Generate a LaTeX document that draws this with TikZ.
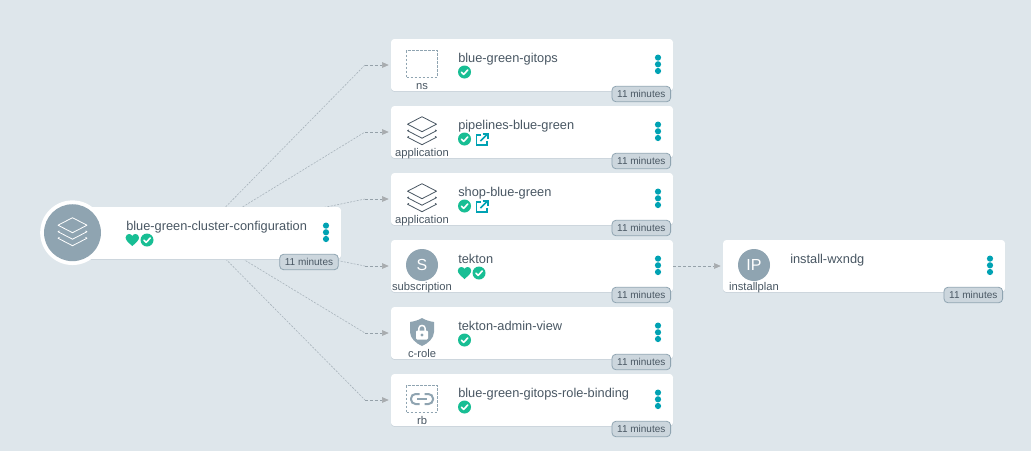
\documentclass[tikz,border=0pt]{standalone}
\usepackage{fontspec}
\setmainfont{Liberation Sans}
\usetikzlibrary{positioning,arrows.meta,shadows}
\definecolor{pagebg}{HTML}{DEE6EB}
\definecolor{inkgrey}{HTML}{495763}
\definecolor{slategrey}{HTML}{8FA4B1}
\definecolor{badgebg}{HTML}{CCD6DD}
\definecolor{okgreen}{HTML}{18BE94}
\definecolor{tealdot}{HTML}{00A2B3}
\definecolor{edgefar}{HTML}{A9B4BC}
\definecolor{edgenear}{HTML}{95A1A9}
\definecolor{tipgrey}{HTML}{A8ACAF}
\definecolor{cardshade}{HTML}{C6D1D9}

\tikzset{
    card/.style={fill=white, rounded corners=2.5pt, minimum width=211.5pt, minimum height=39pt, inner sep=0pt,
        general shadow={fill=cardshade, shadow yshift=-0.6pt}},
    rootcard/.style={card, minimum width=192pt},
    title/.style={anchor=base west, inner sep=0pt, text=inkgrey, font=\fontsize{9.6pt}{12pt}\selectfont},
    kind/.style={anchor=base, inner sep=0pt, text=inkgrey, font=\fontsize{8.4pt}{10pt}\selectfont},
    badge/.style={fill=badgebg, draw=slategrey, line width=0.6pt, rounded corners=3pt, minimum width=44pt, minimum height=11.6pt,
        inner sep=0pt, text=inkgrey, font=\fontsize{7.5pt}{9pt}\selectfont},
    disc/.style={circle, fill=slategrey, minimum size=24pt, inner sep=0pt, text=white, font=\fontsize{12pt}{14pt}\selectfont},
    nsbox/.style={draw=slategrey, line width=0.9pt, dash pattern=on 2pt off 1pt, minimum width=23pt, minimum height=20pt, inner sep=0pt},
    linkfar/.style={draw=edgefar, line width=0.45pt, dash pattern=on 1.5pt off 1pt},
    linknear/.style={draw=edgenear, line width=0.5pt, dash pattern=on 2.2pt off 1.5pt, shorten >=1.5pt,
        -{Triangle[length=5pt, width=4.2pt, color=tipgrey]}},
    layers/.pic={
        \draw[line width=0.6pt, line join=round] (0,-14.3) -- (14.5,-6.8) -- (0,0.7) -- (-14.5,-6.8) -- cycle;
        \draw[line width=0.6pt, line join=round] (-13,-1.1) -- (-14.5,-0.3) -- (0,7.2) -- (14.5,-0.3) -- (13,-1.1);
        \draw[line width=0.6pt, line join=round] (-13,5.4) -- (-14.5,6.2) -- (0,13.7) -- (14.5,6.2) -- (13,5.4);
    },
    okmark/.pic={
        \fill[okgreen] (0,0) circle (6.5);
        \draw[white, line width=1.2pt, line cap=round, line join=round] (-3,0.2) -- (-0.8,2.4) -- (3.2,-2);
    },
    heartmark/.pic={
        \fill[okgreen] (0,6) .. controls (-4,2.5) and (-6.7,0.2) .. (-6.7,-2.5)
            .. controls (-6.7,-4.8) and (-4.8,-6) .. (-3.2,-6) .. controls (-1.8,-6) and (-0.6,-5.2) .. (0,-4)
            .. controls (0.6,-5.2) and (1.8,-6) .. (3.2,-6) .. controls (4.8,-6) and (6.7,-4.8) .. (6.7,-2.5)
            .. controls (6.7,0.2) and (4,2.5) .. (0,6) -- cycle;
    },
    linkout/.pic={
        \draw[tealdot, line width=1.2pt] (-1,-4.8) -- (-5.6,-4.8) -- (-5.6,5.5) -- (4.8,5.5) -- (4.8,1);
        \draw[tealdot, line width=1.2pt] (-1.5,1.5) -- (5.5,-5.5);
        \draw[tealdot, line width=1.2pt] (0.5,-5.8) -- (6,-5.8) -- (6,-0.3);
    },
    kebab/.pic={
        \fill[tealdot] (0,-6.7) circle (3.1);
        \fill[tealdot] (0,0) circle (3.1);
        \fill[tealdot] (0,6.7) circle (3.1);
    },
    shieldlock/.pic={
        \fill[slategrey] (0,-14) .. controls (3,-12) and (8,-10.5) .. (12,-10) -- (12,0)
            .. controls (12,6) and (6,11.5) .. (0,14) .. controls (-6,11.5) and (-12,6) .. (-12,0) -- (-12,-10)
            .. controls (-8,-10.5) and (-3,-12) .. (0,-14) -- cycle;
        \draw[white, line width=1.1pt] (-3.2,-1) -- (-3.2,-3.5) .. controls (-3.2,-7.5) and (3.2,-7.5) .. (3.2,-3.5) -- (3.2,-1);
        \fill[white, rounded corners=0.8pt] (-6,-1.5) rectangle (6,7.5);
        \fill[slategrey] (0,3) circle (1.6);
    },
    chainlink/.pic={
        \draw[slategrey, line width=1.5pt, rounded corners=3.4pt] (-2.5,-5) -- (-11,-5) -- (-11,5) -- (-2.5,5);
        \draw[slategrey, line width=1.5pt, rounded corners=3.4pt] (2.5,-5) -- (11,-5) -- (11,5) -- (2.5,5);
        \draw[slategrey, line width=1.5pt] (-5,0) -- (5,0);
    }
}

\begin{document}
\begin{tikzpicture}[x=0.75pt, y=-0.75pt]

  % page
  \fill[pagebg] (0,0) rectangle (1031,451);
  \useasboundingbox (0,0) rectangle (1031,451);

  % where the links start and bend
  \coordinate (hub) at (200,233);
  \coordinate (nsBend) at (365,65);
  \coordinate (pipeBend) at (365,132);
  \coordinate (shopBend) at (365,199);
  \coordinate (tektonBend) at (365,266);
  \coordinate (viewBend) at (365,333);
  \coordinate (rbBend) at (365,400);

  % cards
  \node[card] (ns) at (532,65) {};
  \node[card] (pipe) at (532,132) {};
  \node[card] (shop) at (532,199) {};
  \node[card] (tekton) at (532,266) {};
  \node[card] (view) at (532,333) {};
  \node[card] (rb) at (532,400) {};
  \node[card] (plan) at (864,266) {};

  % links, under the root card
  \draw[linkfar] (hub) -- (nsBend);
  \draw[linkfar] (hub) -- (pipeBend);
  \draw[linkfar] (hub) -- (shopBend);
  \draw[linkfar] (hub) -- (tektonBend);
  \draw[linkfar] (hub) -- (viewBend);
  \draw[linkfar] (hub) -- (rbBend);
  \draw[linknear] (nsBend) -- (ns.west);
  \draw[linknear] (pipeBend) -- (pipe.west);
  \draw[linknear] (shopBend) -- (shop.west);
  \draw[linknear] (tektonBend) -- (tekton.west);
  \draw[linknear] (viewBend) -- (view.west);
  \draw[linknear] (rbBend) -- (rb.west);
  \draw[linknear] (tekton.east) -- (plan.west);

  % root
  \node[rootcard] (root) at (213,233) {};
  \node[circle, fill=white, minimum size=48.5pt, inner sep=0pt] (rootRing) at (72.5,232.7) {};
  \node[disc, minimum size=42.7pt] (rootDisc) at (72.5,232.7) {};
  \pic[color=white] at (72.5,232) {layers};
  \node[title] (rootName) at (126,230) {blue-green-cluster-configuration};
  \pic at (132.3,240) {heartmark};
  \pic at (147,240) {okmark};
  \pic at (326,232.3) {kebab};
  \node[badge] (rootAge) at (309,262) {11 minutes};

  % ns
  \node[nsbox] (nsIcon) at (422,64) {};
  \node[kind] (nsKind) at (422,89) {ns};
  \node[title] (nsName) at (458,62) {blue-green-gitops};
  \pic at (464.5,72) {okmark};
  \pic at (658,64.3) {kebab};
  \node[badge] (nsAge) at (641.3,94) {11 minutes};

  % pipelines
  \pic[color=inkgrey] at (422,131) {layers};
  \node[kind] (pipeKind) at (422,156) {application};
  \node[title] (pipeName) at (458,129) {pipelines-blue-green};
  \pic at (464.5,139) {okmark};
  \pic at (482,139.5) {linkout};
  \pic at (658,131.3) {kebab};
  \node[badge] (pipeAge) at (641.3,161) {11 minutes};

  % shop
  \pic[color=inkgrey] at (422,198) {layers};
  \node[kind] (shopKind) at (422,223) {application};
  \node[title] (shopName) at (458,196) {shop-blue-green};
  \pic at (464.5,206) {okmark};
  \pic at (482,206.5) {linkout};
  \pic at (658,198.3) {kebab};
  \node[badge] (shopAge) at (641.3,228) {11 minutes};

  % tekton
  \node[disc] (tektonIcon) at (422,265) {S};
  \node[kind] (tektonKind) at (422,290) {subscription};
  \node[title] (tektonName) at (458,263) {tekton};
  \pic at (464.5,273) {heartmark};
  \pic at (479,273) {okmark};
  \pic at (658,265.3) {kebab};
  \node[badge] (tektonAge) at (641.3,295) {11 minutes};

  % admin view
  \pic at (422,332) {shieldlock};
  \node[kind] (viewKind) at (422,357) {c-role};
  \node[title] (viewName) at (458,330) {tekton-admin-view};
  \pic at (464.5,340) {okmark};
  \pic at (658,332.3) {kebab};
  \node[badge] (viewAge) at (641.3,362) {11 minutes};

  % role binding
  \node[nsbox] (rbIcon) at (422,399) {};
  \pic at (422,399) {chainlink};
  \node[kind] (rbKind) at (422,424) {rb};
  \node[title] (rbName) at (458,397) {blue-green-gitops-role-binding};
  \pic at (464.5,407) {okmark};
  \pic at (658,399.3) {kebab};
  \node[badge] (rbAge) at (641.3,429) {11 minutes};

  % install plan
  \node[disc] (planIcon) at (754,265) {IP};
  \node[kind] (planKind) at (754,290) {installplan};
  \node[title] (planName) at (790,263) {install-wxndg};
  \pic at (990,265.3) {kebab};
  \node[badge] (planAge) at (973.3,295) {11 minutes};
\end{tikzpicture}
\end{document}
